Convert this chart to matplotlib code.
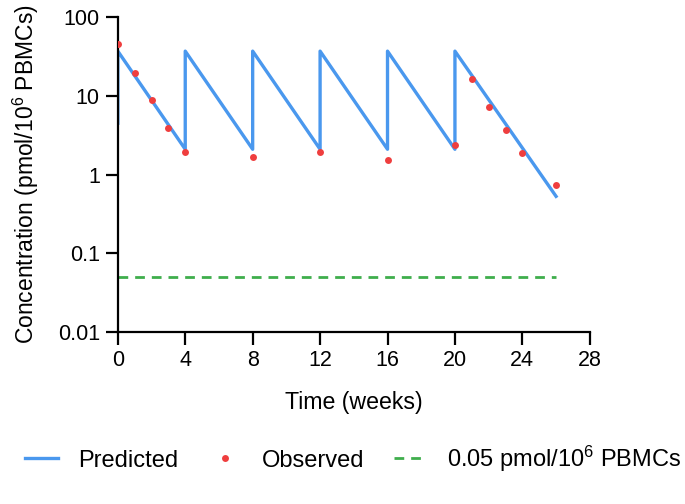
import matplotlib
matplotlib.use("Agg")
import matplotlib.pyplot as plt
from matplotlib.ticker import FixedLocator, FixedFormatter, NullLocator

plt.rcParams['font.family'] = ['Liberation Sans', 'DejaVu Sans']
plt.rcParams['mathtext.fontset'] = 'custom'
plt.rcParams['mathtext.rm'] = 'Liberation Sans'
plt.rcParams['mathtext.it'] = 'Liberation Sans'

# predicted sawtooth (dosing every 4 weeks)
pred_t = [0, 0, 4, 4, 8, 8, 12, 12, 16, 16, 20, 20, 26]
pred_c = [4.5, 37, 2.1, 37, 2.1, 37, 2.1, 37, 2.1, 37, 2.1, 37, 0.53]

# observed
obs_t = [0, 1, 2, 3, 4, 8, 12, 16, 20, 21, 22, 23, 24, 26]
obs_c = [45, 19.4, 8.9, 3.9, 1.95, 1.69, 1.95, 1.53, 2.35, 16.3, 7.2, 3.64, 1.88, 0.73]

# threshold
thr_t = [0, 26]
thr_c = [0.05, 0.05]

y_ticks = [0.01, 0.1, 1, 10, 100]
y_labels = ["0.01", "0.1", "1", "10", "100"]
x_ticks = [0, 4, 8, 12, 16, 20, 24, 28]

blue = '#4a98ee'
red = '#ef3e3e'
green = '#3fae4c'

fig = plt.figure(figsize=(6.85, 5.04), dpi=100)
ax = fig.add_axes([0.172, 0.341, 0.689, 0.625])

ax.plot(pred_t, pred_c, color=blue, lw=2.4, label='Predicted', zorder=2)
ax.plot(obs_t, obs_c, 'o', color=red, ms=5, mec='none', label='Observed', zorder=3)
ax.plot(thr_t, thr_c, '--', color=green, lw=2.0, dashes=(3.5, 2.5),
        label='0.05 pmol/10$^{6}$ PBMCs', zorder=2)

ax.set_yscale('log')
ax.set_ylim(0.01, 100)
ax.set_xlim(0, 28)
ax.yaxis.set_major_locator(FixedLocator(y_ticks))
ax.yaxis.set_major_formatter(FixedFormatter(y_labels))
ax.yaxis.set_minor_locator(NullLocator())
ax.set_xticks(x_ticks)

for s in ['top', 'right']:
    ax.spines[s].set_visible(False)
for s in ['left', 'bottom']:
    ax.spines[s].set_linewidth(1.6)
ax.tick_params(axis='both', width=1.6, length=9, labelsize=15.5, pad=4)

ax.set_xlabel('Time (weeks)', fontsize=16.7, labelpad=14)
ax.set_ylabel('Concentration (pmol/10$^{6}$ PBMCs)', fontsize=16.5, labelpad=12)

fig.legend(loc='center', bbox_to_anchor=(0.516, 0.09), ncol=3, frameon=False,
           fontsize=17, handlelength=1.4, columnspacing=1.27, handletextpad=0.85,
           numpoints=1)

fig.savefig('out.png', dpi=100)
